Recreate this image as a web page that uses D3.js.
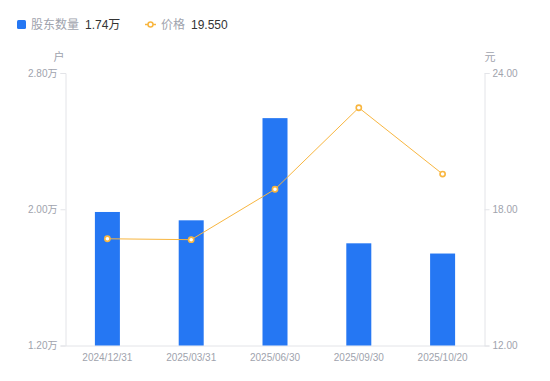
<!DOCTYPE html>
<html><head><meta charset="utf-8">
<script src="https://cdn.jsdelivr.net/npm/d3@7"></script>
<style>
body{margin:0;background:#fff;}
svg{font-family:"Liberation Sans","Noto Sans CJK SC",sans-serif;}
</style></head>
<body><svg id="c" width="550" height="381"></svg>
<script>
const categories = ["2024/12/31","2025/03/31","2025/06/30","2025/09/30","2025/10/20"];
const holders = [1.984, 1.935, 2.535, 1.80, 1.74]; // 万户
const prices = [16.70, 16.66, 18.88, 22.47, 19.55];
const leftTicks = [1.2, 2.0, 2.8];
const rightTicks = [12, 18, 24];

const svg = d3.select("#c");
const m = {l:65.5, r:484.5, t:73, b:345.5};
const x = d3.scaleBand().domain(categories).range([m.l, m.r]);
const yL = d3.scaleLinear().domain([1.2, 2.8]).range([m.b, m.t]);
const yR = d3.scaleLinear().domain([12, 24]).range([m.b, m.t]);
const grey = "#a0a3ad", axisC = "#e3e4e8";
const ff = '"Liberation Sans","Noto Sans CJK SC",sans-serif';

// axes
const gl = svg.append("g").attr("transform",`translate(${m.l},0)`)
  .call(d3.axisLeft(yL).tickValues(leftTicks).tickSize(5).tickPadding(3).tickFormat(d=>d.toFixed(2)+"万"));
const gr = svg.append("g").attr("transform",`translate(${m.r},0)`)
  .call(d3.axisRight(yR).tickValues(rightTicks).tickSize(5).tickPadding(3).tickFormat(d=>d.toFixed(2)));
const gx = svg.append("g").attr("transform",`translate(0,${m.b})`)
  .call(d3.axisBottom(x).tickSize(0).tickPadding(8));
[gl,gr,gx].forEach(g=>{
  g.attr("font-family",ff);
  g.select(".domain").attr("stroke",axisC);
  g.selectAll(".tick line").attr("stroke",axisC);
  g.selectAll("text").attr("fill",grey).style("font-size","10px");
});

// bars
const bw = 25;
svg.append("g").selectAll("rect").data(holders).join("rect")
  .attr("x",(d,i)=>x(categories[i])+x.bandwidth()/2-bw/2)
  .attr("width",bw)
  .attr("y",d=>yL(d))
  .attr("height",d=>m.b-yL(d))
  .attr("fill","#2577f3");

// line
const orange = "#f8b640";
const line = d3.line().x((d,i)=>x(categories[i])+x.bandwidth()/2).y(d=>yR(d));
svg.append("path").datum(prices).attr("d",line).attr("fill","none").attr("stroke",orange).attr("stroke-width",1);
svg.append("g").selectAll("circle").data(prices).join("circle")
  .attr("cx",(d,i)=>x(categories[i])+x.bandwidth()/2).attr("cy",d=>yR(d)).attr("r",2.6)
  .attr("fill","#fff").attr("stroke",orange).attr("stroke-width",1.6);

// unit labels
svg.append("text").attr("x",59).attr("y",61).attr("text-anchor","middle").attr("fill",grey)
  .style("font-size","11px").text("户");
svg.append("text").attr("x",490).attr("y",61).attr("text-anchor","middle").attr("fill",grey)
  .style("font-size","11px").text("元");

// legend
const lg = svg.append("g").style("font-size","12px");
lg.append("rect").attr("x",17).attr("y",20).attr("width",9).attr("height",9).attr("rx",1.5).attr("fill","#2577f3");
lg.append("text").attr("x",31).attr("y",29).attr("fill",grey).text("股东数量");
lg.append("text").attr("x",85).attr("y",29).attr("fill","#333").text(d3.format(".2f")(holders[holders.length-1])+"万");
lg.append("line").attr("x1",145).attr("x2",156).attr("y1",24.5).attr("y2",24.5).attr("stroke",orange).attr("stroke-width",1.5);
lg.append("circle").attr("cx",150.5).attr("cy",24.5).attr("r",2.5).attr("fill","#fff").attr("stroke",orange).attr("stroke-width",1.5);
lg.append("text").attr("x",161).attr("y",29).attr("fill",grey).text("价格");
lg.append("text").attr("x",191).attr("y",29).attr("fill","#333").text("19.550");
</script></body></html>
